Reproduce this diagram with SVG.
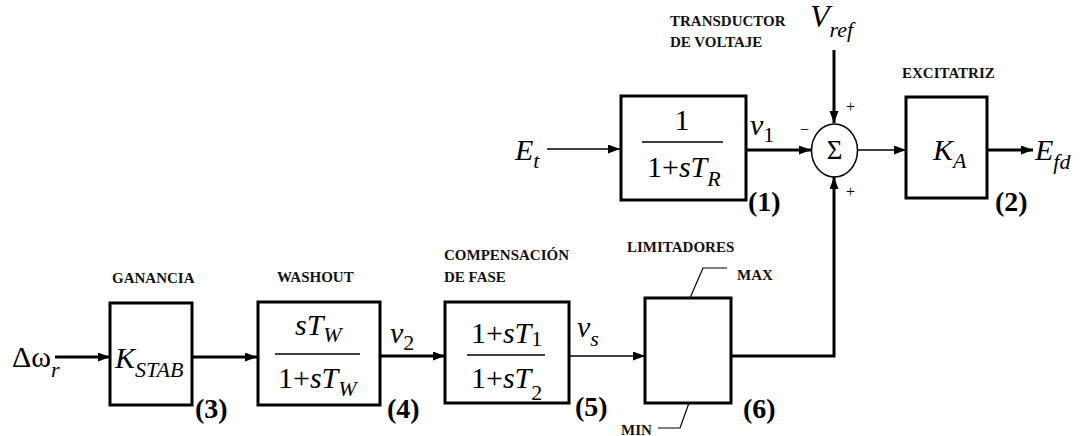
<svg xmlns="http://www.w3.org/2000/svg" width="1087" height="436" viewBox="0 0 1087 436" font-family="Liberation Serif, serif" style="font-family:'Liberation Serif',serif">
<defs>
<marker id="ah" markerUnits="userSpaceOnUse" markerWidth="13" markerHeight="10" refX="12" refY="4.5" orient="auto">
<path d="M0,0 L12,4.5 L0,9 z" fill="#000"/>
</marker>
</defs>
<rect fill="#fff" width="1087" height="436"/>

<g id="connectors" fill="none" stroke="#000">
<path stroke-width="1.3" d="M547,149 L620,149" marker-end="url(#ah)"/>
<path stroke-width="3" d="M746,150 L811,150" marker-end="url(#ah)"/>
<path stroke-width="3" d="M834,50 L834,123" marker-end="url(#ah)"/>
<path stroke-width="1.3" d="M857,150 L906,150" marker-end="url(#ah)"/>
<path stroke-width="3" d="M987,150 L1033,150" marker-end="url(#ah)"/>
<path stroke-width="3" d="M55,357 L110,357" marker-end="url(#ah)"/>
<path stroke-width="3" d="M192,357 L257,357" marker-end="url(#ah)"/>
<path stroke-width="3" d="M380,356 L445,356" marker-end="url(#ah)"/>
<path stroke-width="1.3" d="M569,356 L645,356" marker-end="url(#ah)"/>
<path stroke-width="3" d="M731,356 L834,356 L834,177" marker-end="url(#ah)"/>
</g>

<g id="inputs" style="font-family:'Liberation Serif',serif !important">
<text style="font-family:'Liberation Serif',serif !important;font-style:italic;font-size:30px" x="515" y="160">E<tspan style="font-family:'Liberation Serif',serif !important;font-size:22px" dy="8">t</tspan></text>
<text style="font-family:'Liberation Serif',serif !important;font-style:italic;font-size:32px" x="810" y="27">V<tspan style="font-family:'Liberation Serif',serif !important;font-size:22px" dy="10">ref</tspan></text>
<text style="font-family:'Liberation Serif',serif !important;font-size:30px" x="12" y="367">Δω<tspan style="font-family:'Liberation Serif',serif !important;font-style:italic;font-size:22px" dy="10">r</tspan></text>
<text style="font-family:'Liberation Serif',serif !important;font-style:italic;font-size:30px" x="1035" y="160">E<tspan style="font-family:'Liberation Serif',serif !important;font-size:22px" dy="9">fd</tspan></text>
</g>

<g id="node1" style="font-family:'Liberation Serif',serif !important">
<text style="font-family:'Liberation Serif',serif !important;font-weight:bold;font-size:15px" fill="#111" x="670" y="26">TRANSDUCTOR</text>
<text style="font-family:'Liberation Serif',serif !important;font-weight:bold;font-size:15px" fill="#111" x="670" y="47">DE VOLTAJE</text>
<rect x="621" y="96" width="125" height="104" fill="none" stroke="#000" stroke-width="3"/>
<text style="font-family:'Liberation Serif',serif !important;font-size:30px" x="682" y="130" text-anchor="middle">1</text>
<line x1="642" y1="142" x2="723" y2="142" stroke="#000" stroke-width="1.3"/>
<text style="font-family:'Liberation Serif',serif !important;font-size:30px" x="647" y="177">1+<tspan style="font-family:'Liberation Serif',serif !important;font-style:italic">sT</tspan><tspan style="font-family:'Liberation Serif',serif !important;font-style:italic;font-size:22px" dy="9">R</tspan></text>
<text style="font-family:'Liberation Serif',serif !important;font-style:italic;font-size:30px" x="750" y="135">v<tspan style="font-family:'Liberation Serif',serif !important;font-style:normal;font-size:22px" dy="7">1</tspan></text>
<text style="font-family:'Liberation Serif',serif !important;font-weight:bold;font-size:28px" x="748" y="211">(1)</text>
</g>

<g id="sum" style="font-family:'Liberation Serif',serif !important">
<ellipse cx="834.5" cy="150.5" rx="23" ry="26.5" fill="none" stroke="#000" stroke-width="1.5"/>
<text style="font-family:'Liberation Serif',serif !important;font-size:27px" x="834.5" y="159" text-anchor="middle">Σ</text>
<text style="font-family:'Liberation Serif',serif !important;font-size:16px" x="846" y="112">+</text>
<text style="font-family:'Liberation Serif',serif !important;font-size:16px" x="846" y="197">+</text>
<text style="font-family:'Liberation Serif',serif !important;font-size:16px" x="800" y="135">−</text>
</g>

<g id="node2" style="font-family:'Liberation Serif',serif !important">
<text style="font-family:'Liberation Serif',serif !important;font-weight:bold;font-size:15px" fill="#111" x="902" y="78">EXCITATRIZ</text>
<rect x="906" y="97" width="81" height="101" fill="none" stroke="#000" stroke-width="3"/>
<text style="font-family:'Liberation Serif',serif !important;font-style:italic;font-size:30px" x="933" y="160">K<tspan style="font-family:'Liberation Serif',serif !important;font-size:22px" dy="8">A</tspan></text>
<text style="font-family:'Liberation Serif',serif !important;font-weight:bold;font-size:28px" x="995" y="211">(2)</text>
</g>

<g id="node3" style="font-family:'Liberation Serif',serif !important">
<text style="font-family:'Liberation Serif',serif !important;font-weight:bold;font-size:15px" fill="#111" x="112" y="283">GANANCIA</text>
<rect x="110" y="303" width="82" height="102" fill="none" stroke="#000" stroke-width="3"/>
<text style="font-family:'Liberation Serif',serif !important;font-style:italic;font-size:30px" x="115" y="368">K<tspan style="font-family:'Liberation Serif',serif !important;font-size:22px" dy="9">STAB</tspan></text>
<text style="font-family:'Liberation Serif',serif !important;font-weight:bold;font-size:28px" x="195" y="418">(3)</text>
</g>

<g id="node4" style="font-family:'Liberation Serif',serif !important">
<text style="font-family:'Liberation Serif',serif !important;font-weight:bold;font-size:15px" fill="#111" x="277" y="282">WASHOUT</text>
<rect x="258" y="302" width="122" height="103" fill="none" stroke="#000" stroke-width="3"/>
<text style="font-family:'Liberation Serif',serif !important;font-style:italic;font-size:30px" x="295" y="335">sT<tspan style="font-family:'Liberation Serif',serif !important;font-size:22px" dy="7">W</tspan></text>
<line x1="275" y1="354" x2="360" y2="354" stroke="#000" stroke-width="1.3"/>
<text style="font-family:'Liberation Serif',serif !important;font-size:30px" x="278" y="388">1+<tspan style="font-family:'Liberation Serif',serif !important;font-style:italic">sT</tspan><tspan style="font-family:'Liberation Serif',serif !important;font-style:italic;font-size:22px" dy="8">W</tspan></text>
<text style="font-family:'Liberation Serif',serif !important;font-style:italic;font-size:30px" x="390" y="343">v<tspan style="font-family:'Liberation Serif',serif !important;font-style:normal;font-size:22px" dy="7">2</tspan></text>
<text style="font-family:'Liberation Serif',serif !important;font-weight:bold;font-size:28px" x="387" y="418">(4)</text>
</g>

<g id="node5" style="font-family:'Liberation Serif',serif !important">
<text style="font-family:'Liberation Serif',serif !important;font-weight:bold;font-size:15px" fill="#111" x="444" y="260">COMPENSACIÓN</text>
<text style="font-family:'Liberation Serif',serif !important;font-weight:bold;font-size:15px" fill="#111" x="444" y="282">DE FASE</text>
<rect x="445" y="302" width="124" height="101" fill="none" stroke="#000" stroke-width="3"/>
<text style="font-family:'Liberation Serif',serif !important;font-size:30px" x="471" y="343">1+<tspan style="font-family:'Liberation Serif',serif !important;font-style:italic">sT</tspan><tspan style="font-family:'Liberation Serif',serif !important;font-size:22px" dy="3">1</tspan></text>
<line x1="467" y1="355" x2="545" y2="355" stroke="#000" stroke-width="1.3"/>
<text style="font-family:'Liberation Serif',serif !important;font-size:30px" x="471" y="388">1+<tspan style="font-family:'Liberation Serif',serif !important;font-style:italic">sT</tspan><tspan style="font-family:'Liberation Serif',serif !important;font-size:22px" dy="12">2</tspan></text>
<text style="font-family:'Liberation Serif',serif !important;font-style:italic;font-size:30px" x="577" y="337">v<tspan style="font-family:'Liberation Serif',serif !important;font-size:22px" dy="9">s</tspan></text>
<text style="font-family:'Liberation Serif',serif !important;font-weight:bold;font-size:28px" x="575" y="416">(5)</text>
</g>

<g id="node6" style="font-family:'Liberation Serif',serif !important">
<text style="font-family:'Liberation Serif',serif !important;font-weight:bold;font-size:15px" fill="#111" x="627" y="252">LIMITADORES</text>
<rect x="645" y="298" width="86" height="105" fill="none" stroke="#000" stroke-width="3"/>
<path d="M690,298 L703,268 L727,268" fill="none" stroke="#000" stroke-width="1.2"/>
<text style="font-family:'Liberation Serif',serif !important;font-weight:bold;font-size:15px" fill="#111" x="737" y="280">MAX</text>
<path d="M689,403 L680,428 L658,428" fill="none" stroke="#000" stroke-width="1.2"/>
<text style="font-family:'Liberation Serif',serif !important;font-weight:bold;font-size:15px" fill="#111" x="621" y="435">MIN</text>
<text style="font-family:'Liberation Serif',serif !important;font-weight:bold;font-size:28px" x="743" y="418">(6)</text>
</g>
</svg>
